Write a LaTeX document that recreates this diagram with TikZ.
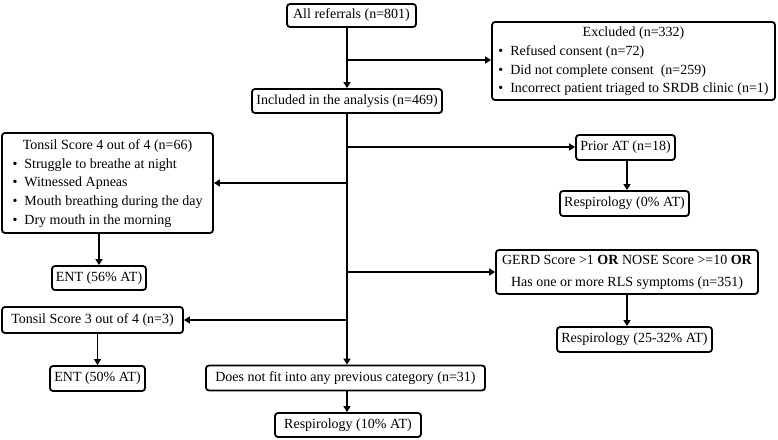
\documentclass[tikz,border=0pt]{standalone}
\usepackage{fontspec}
\setmainfont{Liberation Serif}
\usetikzlibrary{arrows.meta}
\begin{document}
\begin{tikzpicture}[x=1pt,y=-1pt,
  box/.style={draw, line width=1.8pt, rounded corners=3pt, inner sep=0pt,
    font=\fontsize{14}{16.7}\selectfont, align=center},
  conn/.style={line width=1.8pt},
  arr/.style={conn, -{Triangle[length=6pt,width=7pt]}}]
\useasboundingbox (0,0) rectangle (778,439);
\renewcommand\arraystretch{1.12}
\node[box, minimum width=129pt, minimum height=23pt] (all) at (351.5,15.5) {All referrals (n=801)};
\node[box, minimum width=283pt, minimum height=78pt] (excl) at (633.5,61) {\begin{tabular}{@{}l@{}}\multicolumn{1}{c}{Excluded (n=332)}\\ \textbullet\ \ Refused consent (n=72)\\ \textbullet\ \ Did not complete consent\ \ (n=259)\\ \textbullet\ \ Incorrect patient triaged to SRDB clinic (n=1)\end{tabular}};
\node[box, minimum width=190pt, minimum height=24pt] (incl) at (347,101) {Included in the analysis (n=469)};
\node[box, minimum width=211pt, minimum height=100pt] (t4) at (107.5,183) {\begin{tabular}{@{}l@{}}\multicolumn{1}{c}{Tonsil Score 4 out of 4 (n=66)}\\ \textbullet\ \ Struggle to breathe at night\\ \textbullet\ \ Witnessed Apneas\\ \textbullet\ \ Mouth breathing during the day\\ \textbullet\ \ Dry mouth in the morning\end{tabular}};
\node[box, minimum width=94pt, minimum height=24pt] (ent1) at (99,278) {ENT (56\% AT)};
\node[box, minimum width=99pt, minimum height=25pt] (prior) at (625.5,147.5) {Prior AT (n=18)};
\node[box, minimum width=129pt, minimum height=25pt] (r0) at (624.5,203.5) {Respirology (0\% AT)};
\node[box, minimum width=262pt, minimum height=44pt] (gerd) at (627,272) {\begin{tabular}{@{}c@{}}GERD Score >1 \textbf{OR} NOSE Score >=10 \textbf{OR}\\[3pt] Has one or more RLS symptoms (n=351)\end{tabular}};
\node[box, minimum width=155pt, minimum height=25pt] (r25) at (634.5,339.5) {Respirology (25-32\% AT)};
\node[box, minimum width=181pt, minimum height=26pt] (t3) at (92.5,320) {Tonsil Score 3 out of 4 (n=3)};
\node[box, minimum width=95pt, minimum height=25pt] (ent2) at (97.5,378.5) {ENT (50\% AT)};
\node[box, minimum width=279pt, minimum height=25pt] (dnf) at (345.5,378) {Does not fit into any previous category (n=31)};
\node[box, minimum width=146pt, minimum height=24pt] (r10) at (348,425) {Respirology (10\% AT)};
% spine
\coordinate (b1) at (347,60);
\coordinate (b2) at (347,147);
\coordinate (b3) at (347,183);
\coordinate (b4) at (347,272);
\coordinate (b5) at (347,320);
\draw[arr] (all.south -| incl) -- (incl.north);
\draw[arr] (b1) -- (b1 -| excl.west);
\draw[arr] (incl.south) -- (dnf.north -| incl);
\draw[arr] (b2) -- (b2 -| prior.west);
\draw[arr] (b3) -- (b3 -| t4.east);
\draw[arr] (b4) -- (b4 -| gerd.west);
\draw[arr] (b5) -- (b5 -| t3.east);
\draw[arr] (prior.south -| 627,0) -- (r0.north -| 627,0);
\draw[arr] (gerd.south) -- (gerd.south |- r25.north);
\draw[arr] (ent1 |- t4.south) -- (ent1.north);
\draw[arr] (ent2 |- t3.south) -- (ent2.north);
\draw[arr] (dnf.south -| incl) -- (r10.north -| incl);
\end{tikzpicture}
\end{document}
